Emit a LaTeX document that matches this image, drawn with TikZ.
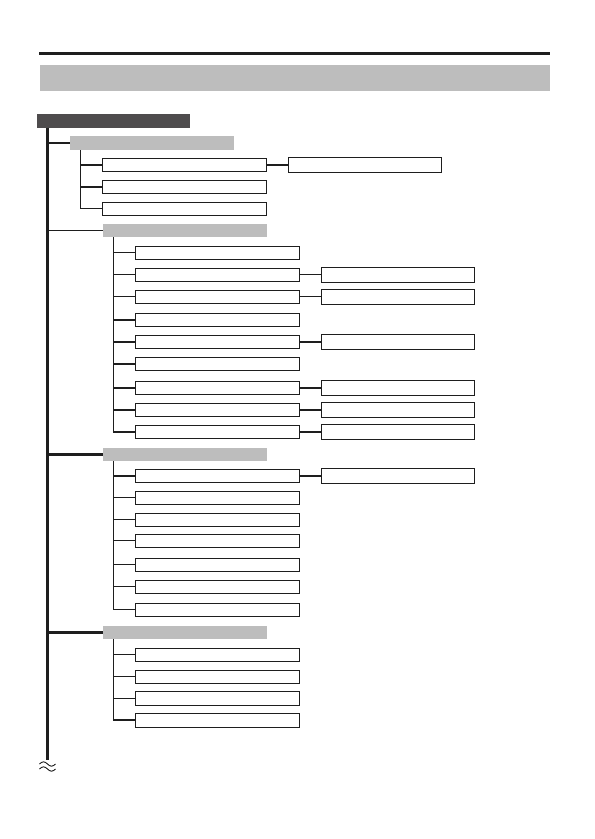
\documentclass[tikz,border=0pt]{standalone}
\definecolor{lineC}{HTML}{1E1E1E}
\definecolor{barGray}{HTML}{BDBDBD}
\definecolor{darkBar}{HTML}{4E4C4D}
\begin{document}
\begin{tikzpicture}[x=1pt,y=-1pt,
  box/.style={draw=lineC, line width=1pt, fill=white, minimum width=164pt, minimum height=13pt, inner sep=0pt, outer sep=0pt, anchor=north west},
  rbox/.style={box, minimum width=153pt, minimum height=15pt},
  bar/.style={fill=barGray, minimum width=164pt, minimum height=13pt, inner sep=0pt, outer sep=0pt, anchor=north west},
  conn/.style={draw=lineC, line width=1pt},
  connB/.style={draw=lineC, line width=2.2pt}]
\path[use as bounding box] (0,0) rectangle (595,839);
% header
\draw[lineC, line width=3pt] (39,53.5) -- (550,53.5);
\node[fill=barGray, minimum width=510pt, minimum height=26pt, inner sep=0pt, anchor=north west] (banner) at (40,65) {};
\node[fill=darkBar, minimum width=153pt, minimum height=14pt, inner sep=0pt, outer sep=0pt, anchor=north west] (top) at (37,114) {};
% main spine
\coordinate (m0) at (47.5,127.7);
\coordinate (m1) at (47.5,760);
\draw[lineC, line width=2.4pt] (m0) -- (m1);
% approx sign
\draw[lineC, line width=0.9pt] (39.5,764) sin (43.5,761.8) cos (47.5,764) sin (51.5,766.2) cos (55.5,764);
\draw[lineC, line width=0.9pt] (39.5,769) sin (43.5,766.8) cos (47.5,769) sin (51.5,771.2) cos (55.5,769);

% ---------- group 1 ----------
\node[bar, minimum height=14pt] (b1) at (70,136) {};
\node[box] (c11) at (102.3,158.3) {};
\node[box] (c12) at (102.3,180.3) {};
\node[box] (c13) at (102.3,202.3) {};
\node[rbox] (r11) at (288.3,157.3) {};
\draw[connB] (m0 |- b1.west) -- (b1.west);
\coordinate (v1) at ([xshift=10.7pt]b1.south west);
\draw[conn] (v1) |- (c13.west);
\draw[connB] (v1 |- c11.west) -- (c11.west);
\draw[connB] (v1 |- c12.west) -- (c12.west);
\draw[connB] (c11.east) -- (c11.east -| r11.west);

% ---------- group 2 ----------
\node[bar] (b2) at (103,224) {};
\node[box] (c21) at (135.3,246.3) {};
\node[box] (c22) at (135.3,268.3) {};
\node[box] (c23) at (135.3,290.3) {};
\node[box] (c24) at (135.3,313.3) {};
\node[box] (c25) at (135.3,335.3) {};
\node[box] (c26) at (135.3,357.3) {};
\node[box] (c27) at (135.3,381.3) {};
\node[box] (c28) at (135.3,403.3) {};
\node[box] (c29) at (135.3,425.3) {};
\node[rbox] (r22) at (321.3,267.3) {};
\node[rbox] (r23) at (321.3,289.3) {};
\node[rbox] (r25) at (321.3,334.3) {};
\node[rbox] (r27) at (321.3,380.3) {};
\node[rbox] (r28) at (321.3,402.3) {};
\node[rbox] (r29) at (321.3,424.3) {};
\draw[conn] (m0 |- b2.west) -- (b2.west);
\coordinate (v2) at ([xshift=10.3pt]b2.south west);
\coordinate (e2) at (v2 |- c29.west);
\draw[conn] (v2) -- ([yshift=-1.1pt]e2);
\draw[conn] (v2 |- c21.west) -- (c21.west);
\draw[conn] (v2 |- c22.west) -- (c22.west);
\draw[conn] (v2 |- c23.west) -- (c23.west);
\draw[connB] (v2 |- c24.west) -- (c24.west);
\draw[connB] (v2 |- c25.west) -- (c25.west);
\draw[connB] (v2 |- c26.west) -- (c26.west);
\draw[connB] (v2 |- c27.west) -- (c27.west);
\draw[connB] (v2 |- c28.west) -- (c28.west);
\draw[connB] ([xshift=-0.5pt]e2) -- (c29.west);
\draw[conn] (c22.east) -- (c22.east -| r22.west);
\draw[conn] (c23.east) -- (c23.east -| r23.west);
\draw[connB] (c25.east) -- (c25.east -| r25.west);
\draw[connB] (c27.east) -- (c27.east -| r27.west);
\draw[connB] (c28.east) -- (c28.east -| r28.west);
\draw[connB] (c29.east) -- (c29.east -| r29.west);

% ---------- group 3 ----------
\node[bar] (b3) at (103,448) {};
\node[box] (c31) at (135.3,469.3) {};
\node[box] (c32) at (135.3,491.3) {};
\node[box] (c33) at (135.3,513.3) {};
\node[box] (c34) at (135.3,534.3) {};
\node[box] (c35) at (135.3,558.3) {};
\node[box] (c36) at (135.3,580.3) {};
\node[box] (c37) at (135.3,603.3) {};
\node[rbox] (r31) at (321.3,468.3) {};
\draw[connB] (m0 |- b3.west) -- (b3.west);
\coordinate (v3) at ([xshift=10.3pt]b3.south west);
\draw[conn] (v3) |- (c37.west);
\draw[connB] (v3 |- c31.west) -- (c31.west);
\draw[conn] (v3 |- c32.west) -- (c32.west);
\draw[conn] (v3 |- c33.west) -- (c33.west);
\draw[conn] (v3 |- c34.west) -- (c34.west);
\draw[conn] (v3 |- c35.west) -- (c35.west);
\draw[conn] (v3 |- c36.west) -- (c36.west);
\draw[connB] (c31.east) -- (c31.east -| r31.west);

% ---------- group 4 ----------
\node[bar] (b4) at (103,626) {};
\node[box] (c41) at (135.3,648.3) {};
\node[box] (c42) at (135.3,670.3) {};
\node[box, minimum height=14pt] (c43) at (135.3,691.3) {};
\node[box, minimum height=14pt] (c44) at (135.3,713.3) {};
\draw[connB] (m0 |- b4.west) -- (b4.west);
\coordinate (v4) at ([xshift=10.3pt]b4.south west);
\coordinate (e4) at (v4 |- c44.west);
\draw[conn] (v4) -- ([yshift=-1.1pt]e4);
\draw[conn] (v4 |- c41.west) -- (c41.west);
\draw[conn] (v4 |- c42.west) -- (c42.west);
\draw[conn] (v4 |- c43.west) -- (c43.west);
\draw[connB] ([xshift=-0.5pt]e4) -- (c44.west);
\end{tikzpicture}
\end{document}
